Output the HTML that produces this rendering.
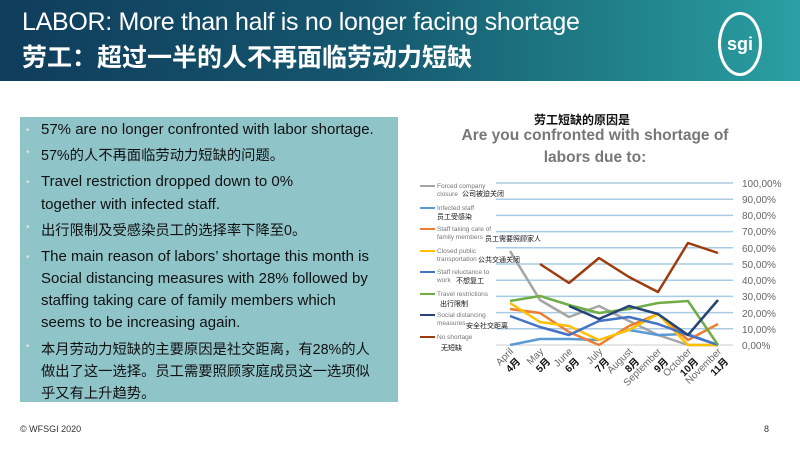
<!DOCTYPE html>
<html><head><meta charset="utf-8"><style>
body{margin:0;width:800px;height:450px;background:#fff;position:relative;overflow:hidden;font-family:"Liberation Sans","Noto Sans CJK SC",sans-serif}
.hdr{position:absolute;left:0;top:0;width:800px;height:81px;background:linear-gradient(90deg,#0f3d5c 0%,#15566e 45%,#1f7d86 75%,#2aa0a3 100%)}
.t1{position:absolute;left:22px;top:8px;color:#fff;font-size:25px;letter-spacing:-0.3px}
.t2{position:absolute;left:22px;top:38px;color:#fff;font-size:25px;font-weight:bold}
.box{position:absolute;left:20px;top:117px;width:378px;height:285px;background:#8fc4c9}
.l{position:absolute;left:41px;font-size:15px;color:#111;white-space:nowrap}
.c{font-size:14.3px}
.b{position:absolute;left:26px;font-size:10px;color:#d8e6e8}
.foot{position:absolute;top:424px;font-size:9px;color:#333}
</style></head><body>
<div class="hdr">
<div class="t1">LABOR: More than half is no longer facing shortage</div>
<div class="t2">劳工：超过一半的人不再面临劳动力短缺</div>
<div style="position:absolute;left:718px;top:12px;width:38px;height:58px;border-radius:50%;border:3px solid #fff;color:#fff;font-weight:bold;font-size:18px;text-align:center;line-height:58px">sgi</div>
</div>
<div class="box"></div>
<span class="b" style="top:125px">•</span><div class="l" style="top:121px">57% are no longer confronted with labor shortage.</div>
<span class="b" style="top:147px">•</span><div class="l c" style="top:144px">57%的人不再面临劳动力短缺的问题。</div>
<span class="b" style="top:177px">•</span><div class="l" style="top:173px">Travel restriction dropped down to 0%</div>
<div class="l" style="top:196px">together with infected staff.</div>
<span class="b" style="top:222px">•</span><div class="l c" style="top:219px">出行限制及受感染员工的选择率下降至0。</div>
<span class="b" style="top:252px">•</span><div class="l" style="top:248px">The main reason of labors’ shortage this month is</div>
<div class="l" style="top:270px">Social distancing measures with 28% followed by</div>
<div class="l" style="top:292px">staffing taking care of family members which</div>
<div class="l" style="top:314px">seems to be increasing again.</div>
<span class="b" style="top:341px">•</span><div class="l c" style="top:338px">本月劳动力短缺的主要原因是社交距离，有28%的人</div>
<div class="l c" style="top:360px">做出了这一选择。员工需要照顾家庭成员这一选项似</div>
<div class="l c" style="top:382px">乎又有上升趋势。</div>
<div class="foot" style="left:20px">© WFSGI 2020</div>
<div class="foot" style="left:764px">8</div>
<svg width="800" height="450" style="position:absolute;left:0;top:0">
<g font-family="Liberation Sans,Noto Sans CJK SC,sans-serif">
<text x="582" y="124" font-size="12" font-weight="bold" text-anchor="middle" fill="#111">劳工短缺的原因是</text>
<text x="595" y="140" font-size="15.5" font-weight="bold" text-anchor="middle" fill="#777">Are you confronted with shortage of</text>
<text x="595" y="162" font-size="15.5" font-weight="bold" text-anchor="middle" fill="#777">labors due to:</text>
<g stroke="#a9cbe3" stroke-width="1.5">
<line x1="496" x2="733" y1="183" y2="183"/><line x1="496" x2="733" y1="199.2" y2="199.2"/><line x1="496" x2="733" y1="215.4" y2="215.4"/><line x1="496" x2="733" y1="231.6" y2="231.6"/><line x1="496" x2="733" y1="247.8" y2="247.8"/><line x1="496" x2="733" y1="264" y2="264"/><line x1="496" x2="733" y1="280.2" y2="280.2"/><line x1="496" x2="733" y1="296.4" y2="296.4"/><line x1="496" x2="733" y1="312.6" y2="312.6"/><line x1="496" x2="733" y1="328.8" y2="328.8"/></g>
<line x1="496" x2="733" y1="345" y2="345" stroke="#ccc"/>
<g font-size="10" fill="#666">
<text x="742" y="187">100,00%</text><text x="742" y="203">90,00%</text><text x="742" y="219">80,00%</text><text x="742" y="235">70,00%</text><text x="742" y="252">60,00%</text><text x="742" y="268">50,00%</text><text x="742" y="284">40,00%</text><text x="742" y="300">30,00%</text><text x="742" y="317">20,00%</text><text x="742" y="333">10,00%</text><text x="742" y="349">0,00%</text></g>
<g fill="none" stroke-width="2.5" stroke-linejoin="round">
<polyline stroke="#a5a5a5" points="510,251 540,300 569,317 599,306 629,321 658,335 688,345 718,345"/>
<polyline stroke="#5b9bd5" points="510,345 540,339 569,339 599,340 629,330 658,335 688,334 718,345"/>
<polyline stroke="#ed7d31" points="510,309 540,313 569,332 599,345 629,326 658,314 688,340 718,324"/>
<polyline stroke="#ffc000" points="510,303 540,322 569,326 599,340 629,330 658,314 688,345 718,345"/>
<polyline stroke="#4472c4" points="510,316 540,327 569,335 599,321 629,317 658,324 688,335 718,345"/>
<polyline stroke="#70ad47" points="510,301 540,296 569,305 599,313 629,309 658,303 688,301 718,345"/>
<polyline stroke="#264478" points="569,306 599,319 629,306 658,314 688,335 718,300"/>
<polyline stroke="#9e3b0c" points="540,264 569,283 599,258 629,277 658,292 688,243 718,253"/>
</g>
<g font-size="6.5" fill="#777">
<line x1="420" x2="435" y1="186" y2="186" stroke="#a5a5a5" stroke-width="2"/><text x="437" y="188">Forced company</text><text x="437" y="196">closure</text>
<line x1="420" x2="435" y1="208" y2="208" stroke="#5b9bd5" stroke-width="2"/><text x="437" y="210">Infected staff</text>
<line x1="420" x2="435" y1="229" y2="229" stroke="#ed7d31" stroke-width="2"/><text x="437" y="231">Staff taking care of</text><text x="437" y="239">family members</text>
<line x1="420" x2="435" y1="251" y2="251" stroke="#ffc000" stroke-width="2"/><text x="437" y="253">Closed public</text><text x="437" y="261">transportation</text>
<line x1="420" x2="435" y1="272" y2="272" stroke="#4472c4" stroke-width="2"/><text x="437" y="274">Staff reluctance to</text><text x="437" y="282">work</text>
<line x1="420" x2="435" y1="294" y2="294" stroke="#70ad47" stroke-width="2"/><text x="437" y="296">Travel restrictions</text>
<line x1="420" x2="435" y1="315" y2="315" stroke="#264478" stroke-width="2"/><text x="437" y="317">Social distancing</text><text x="437" y="325">measures</text>
<line x1="420" x2="435" y1="337" y2="337" stroke="#9e3b0c" stroke-width="2"/><text x="437" y="339">No shortage</text>
</g>
<g font-size="7" fill="#111">
<text x="462" y="196">公司被迫关闭</text><text x="437" y="219">员工受感染</text><text x="485" y="241">员工需要照顾家人</text><text x="478" y="262">公共交通关闭</text><text x="456" y="283">不想复工</text><text x="440" y="306">出行限制</text><text x="466" y="328">安全社交距离</text><text x="441" y="350">无短缺</text>
</g>
<g font-size="10" fill="#666">
<text transform="translate(514,352) rotate(-45)" text-anchor="end">April</text>
<text transform="translate(544,352) rotate(-45)" text-anchor="end">May</text>
<text transform="translate(573,352) rotate(-45)" text-anchor="end">June</text>
<text transform="translate(603,352) rotate(-45)" text-anchor="end">July</text>
<text transform="translate(633,352) rotate(-45)" text-anchor="end">August</text>
<text transform="translate(662,352) rotate(-45)" text-anchor="end">September</text>
<text transform="translate(692,352) rotate(-45)" text-anchor="end">October</text>
<text transform="translate(722,352) rotate(-45)" text-anchor="end">November</text></g>
<g font-size="10" font-weight="bold" fill="#111">
<text transform="translate(521,362) rotate(-45)" text-anchor="end">4月</text>
<text transform="translate(551,362) rotate(-45)" text-anchor="end">5月</text>
<text transform="translate(580,362) rotate(-45)" text-anchor="end">6月</text>
<text transform="translate(610,362) rotate(-45)" text-anchor="end">7月</text>
<text transform="translate(640,362) rotate(-45)" text-anchor="end">8月</text>
<text transform="translate(669,362) rotate(-45)" text-anchor="end">9月</text>
<text transform="translate(699,362) rotate(-45)" text-anchor="end">10月</text>
<text transform="translate(729,362) rotate(-45)" text-anchor="end">11月</text></g>
</g></svg>
</body></html>
